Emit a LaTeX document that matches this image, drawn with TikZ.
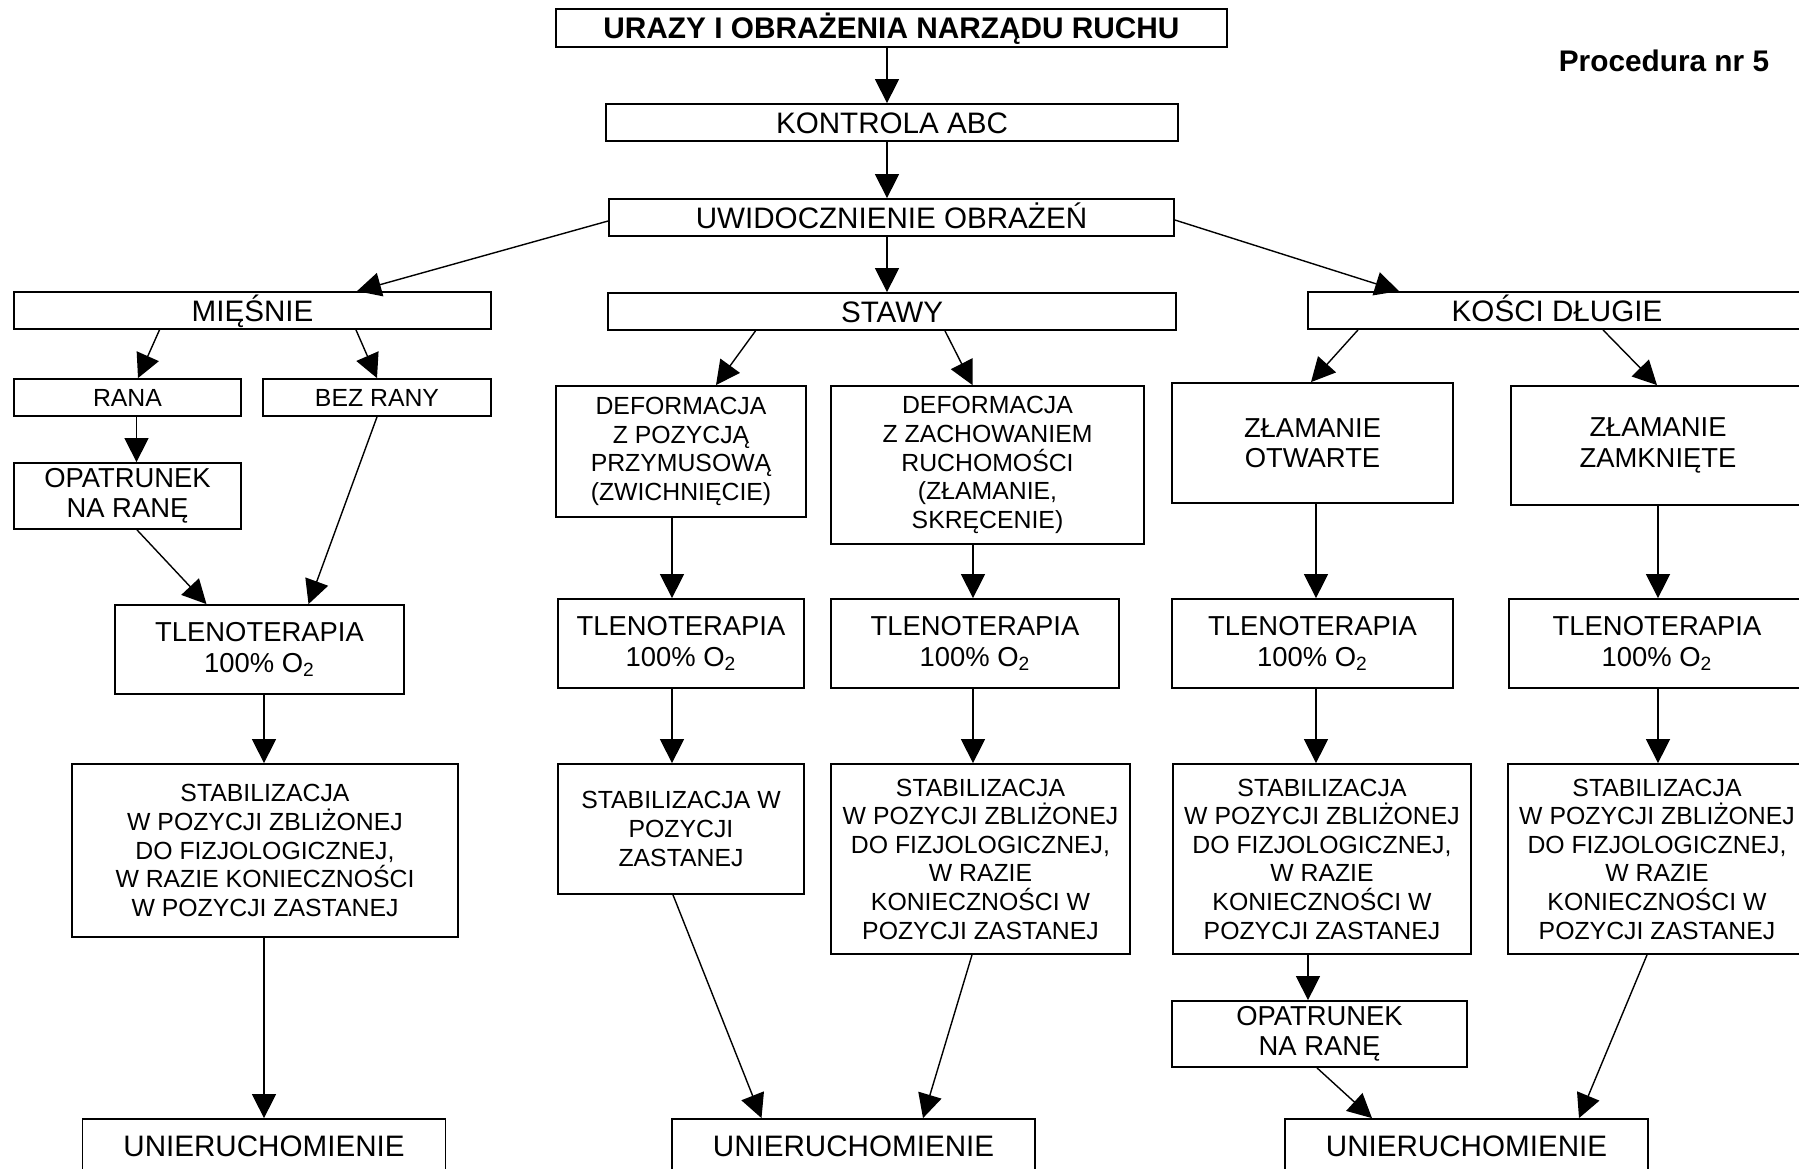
\documentclass[tikz,border=0pt]{standalone}
\usepackage{fontspec}
\setmainfont{Liberation Sans}
\usetikzlibrary{arrows.meta, calc}

\newcommand{\tleno}{TLENOTERAPIA\\100\% O\textsubscript{2}}
\newcommand{\stabtxt}{STABILIZACJA\\W POZYCJI ZBLIŻONEJ\\DO FIZJOLOGICZNEJ,\\W RAZIE\\KONIECZNOŚCI W\\POZYCJI ZASTANEJ}

\begin{document}
\begin{tikzpicture}[x=0.5pt, y=-0.5pt,
        box/.style={draw, line width=0.9pt, align=center, inner sep=0pt},
        bigtxt/.style={font=\fontsize{14.8}{17}\selectfont, text height=10.6pt, text depth=0pt},
        onerow/.style={text height=8.9pt, text depth=0pt},
        midtxt/.style={font=\fontsize{13.7}{15.2}\selectfont},
        smalltxt/.style={font=\fontsize{12.4}{14.3}\selectfont},
        arr/.style={line width=0.7pt, -{Triangle[length=12pt, width=12pt]}}]

        \useasboundingbox (0,0) rectangle (1799,1168);
        \clip (0,0) rectangle (1799,1168);

        % 1. Nagłówek i pierwsze kroki
        \node[box, font=\bfseries\fontsize{14.9}{17}\selectfont, text height=10.7pt, text depth=0pt, minimum width=335.5pt, minimum height=19pt] (urazy) at (891.5,28) {URAZY I OBRAŻENIA NARZĄDU RUCHU};
        \node[font=\bfseries\fontsize{14.9}{17}\selectfont] (proc) at (1664,61) {Procedura nr 5};
        \node[box, bigtxt, minimum width=286pt, minimum height=18.5pt] (kontrola) at (892,122.5) {KONTROLA ABC};
        \node[box, bigtxt, minimum width=282.5pt, minimum height=18.5pt] (uwid) at (891.5,217.5) {UWIDOCZNIENIE OBRAŻEŃ};

        % 2. Trzy grupy
        \node[box, bigtxt, minimum width=238.5pt, minimum height=18.5pt] (miesnie) at (252.5,310.5) {MIĘŚNIE};
        \node[box, bigtxt, minimum width=284pt, minimum height=18.5pt] (stawy) at (892,311.5) {STAWY};
        \node[box, bigtxt, minimum width=249pt, minimum height=18.5pt] (kosci) at (1557,310.5) {KOŚCI DŁUGIE};

        % 3. Mięśnie
        \node[box, smalltxt, onerow, minimum width=113.5pt, minimum height=18.5pt] (rana) at (127.5,397.5) {RANA};
        \node[box, smalltxt, onerow, minimum width=113.75pt, minimum height=18.5pt] (bezrany) at (377,397.5) {BEZ RANY};
        \node[box, midtxt, minimum width=113.5pt, minimum height=33pt] (opatrA) at (127.5,496) {OPATRUNEK\\NA RANĘ};
        \node[box, midtxt, minimum width=144.5pt, minimum height=44.5pt] (tlenA) at (259.5,649.5) {\tleno};
        \node[box, smalltxt, minimum width=193pt, minimum height=86.5pt] (stabA) at (265,850.5) {STABILIZACJA\\W POZYCJI ZBLIŻONEJ\\DO FIZJOLOGICZNEJ,\\W RAZIE KONIECZNOŚCI\\W POZYCJI ZASTANEJ};

        % 4. Stawy
        \node[box, smalltxt, minimum width=125pt, minimum height=65.5pt] (defA) at (681,451.5) {DEFORMACJA\\Z POZYCJĄ\\PRZYMUSOWĄ\\(ZWICHNIĘCIE)};
        \node[box, smalltxt, minimum width=156.5pt, minimum height=79pt] (defB) at (987.5,465) {DEFORMACJA\\Z ZACHOWANIEM\\RUCHOMOŚCI\\(ZŁAMANIE,\\SKRĘCENIE)};
        \node[box, smalltxt, minimum width=123pt, minimum height=65pt] (stabB) at (681,829) {STABILIZACJA W\\POZYCJI\\ZASTANEJ};

        % 5. Kości długie
        \node[box, midtxt, minimum width=140.5pt, minimum height=60pt] (zlOtw) at (1312.5,443) {ZŁAMANIE\\OTWARTE};
        \node[box, midtxt, minimum width=147pt, minimum height=59.5pt] (zlZamk) at (1658,445.5) {ZŁAMANIE\\ZAMKNIĘTE};
        \node[box, midtxt, minimum width=147.5pt, minimum height=33pt] (opatrB) at (1319.5,1034) {OPATRUNEK\\NA RANĘ};

        % tlenoterapia i stabilizacja w kolumnach
        \foreach \nm/\cx/\w in {tlenB/681/123pt, tlenC/975/144pt, tlenD/1312.5/140.5pt, tlenE/1657/148pt}
            \node[box, midtxt, minimum width=\w, minimum height=44.5pt] (\nm) at (\cx,643.5) {\tleno};
        \foreach \nm/\cx/\w in {stabC/980.5/149.5pt, stabD/1322/149pt, stabE/1657/149pt}
            \node[box, smalltxt, minimum width=\w, minimum height=95pt] (\nm) at (\cx,859) {\stabtxt};

        % 6. Unieruchomienie
        \foreach \nm/\cx in {unierA/264, unierB/853.5, unierC/1466.5}
            \node[box, bigtxt, minimum width=181.5pt, minimum height=27pt] (\nm) at (\cx,1146) {UNIERUCHOMIENIE};

        % 7. Strzałki
        \draw[arr] ($(urazy.south)+(-4.5,0)$) -- ($(kontrola.north)+(-5,0)$);
        \draw[arr] ($(kontrola.south)+(-5,0)$) -- ($(uwid.north)+(-4.5,0)$);
        \draw[arr] ($(uwid.south)+(-4.5,0)$) -- ($(stawy.north)+(-5,0)$);
        \draw[arr] ($(uwid.west)+(0,3.5)$) -- ($(miesnie.north)+(104.5,0)$);
        \draw[arr] ($(uwid.east)+(0,2.5)$) -- ($(kosci.north)+(-158,0)$);

        \draw[arr] ($(miesnie.south)+(-93,0)$) -- ($(rana.north)+(10.5,0)$);
        \draw[arr] ($(miesnie.south)+(103.5,0)$) -- (bezrany.north);
        \draw[arr] ($(rana.south)+(9,0)$) -- ($(opatrA.north)+(9,0)$);
        \draw[arr] ($(opatrA.south)+(9.5,0)$) -- ($(tlenA.north)+(-53,0)$);
        \draw[arr] (bezrany.south) -- ($(tlenA.north)+(49,0)$);
        \draw[arr] ($(tlenA.south)+(4.5,0)$) -- ($(stabA.north)+(-1,0)$);
        \draw[arr] ($(stabA.south)+(-1,0)$) -- (unierA.north);

        \draw[arr] ($(stawy.south)+(-136.5,0)$) -- ($(defA.north)+(35,0)$);
        \draw[arr] ($(stawy.south)+(53,0)$) -- ($(defB.north)+(-15,0)$);
        \draw[arr] ($(defA.south)+(-9,0)$) -- ($(tlenB.north)+(-9,0)$);
        \draw[arr] ($(defB.south)+(-14.5,0)$) -- ($(tlenC.north)+(-2,0)$);
        \draw[arr] ($(tlenB.south)+(-9,0)$) -- ($(stabB.north)+(-9,0)$);
        \draw[arr] ($(tlenC.south)+(-2,0)$) -- ($(stabC.north)+(-7.5,0)$);
        \draw[arr] ($(stabB.south)+(-8,0)$) -- ($(unierB.north)+(-92,0)$);
        \draw[arr] ($(stabC.south)+(-8.5,0)$) -- ($(unierB.north)+(69.5,0)$);

        \draw[arr] ($(kosci.south)+(-199,0)$) -- ($(zlOtw.north)+(-1.5,0)$);
        \draw[arr] ($(kosci.south)+(46,0)$) -- ($(zlZamk.north)+(-1,0)$);
        \draw[arr] ($(zlOtw.south)+(3.5,0)$) -- ($(tlenD.north)+(3.5,0)$);
        \draw[arr] (zlZamk.south) -- ($(tlenE.north)+(1,0)$);
        \draw[arr] ($(tlenD.south)+(3.5,0)$) -- ($(stabD.north)+(-6,0)$);
        \draw[arr] ($(tlenE.south)+(1,0)$) -- ($(stabE.north)+(1,0)$);
        \draw[arr] ($(stabD.south)+(-14,0)$) -- ($(opatrB.north)+(-11.5,0)$);
        \draw[arr] ($(opatrB.south)+(-2.5,0)$) -- ($(unierC.north)+(-94.5,0)$);
        \draw[arr] ($(stabE.south)+(-10,0)$) -- ($(unierC.north)+(112.5,0)$);

\end{tikzpicture}
\end{document}
